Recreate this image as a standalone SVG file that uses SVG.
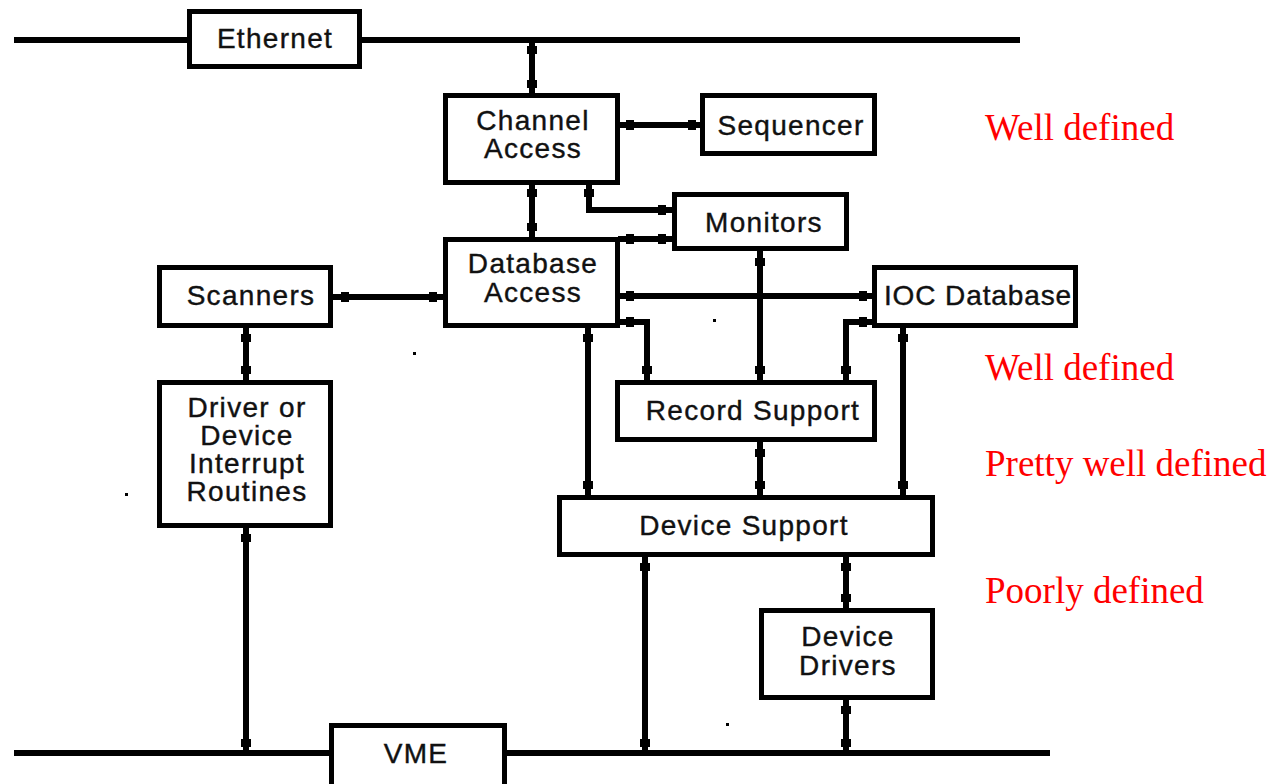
<svg xmlns="http://www.w3.org/2000/svg" width="1286" height="784" viewBox="0 0 1286 784">
<style>
.box{fill:#fff;stroke:#000;stroke-width:5}
.ln{fill:none;stroke:#000;stroke-width:6}
.t{font-family:"Liberation Sans",Arial,sans-serif;font-size:28px;fill:#111;stroke:#111;stroke-width:0.4;letter-spacing:1.3px;text-anchor:middle}
.r{font-family:"Liberation Serif","Times New Roman",serif;font-size:37px;fill:#ff0000}
.tk{fill:#000}
</style>
<defs>
<rect id="tv" x="-5" y="-4" width="10" height="8"/>
<rect id="th" x="-4" y="-5" width="8" height="10"/>
</defs>
<rect width="1286" height="784" fill="#fff"/>
<g id="connectors">
<path class="ln" d="M14 40 H1020"/>
<path class="ln" d="M14 753 H1050"/>
<path class="ln" d="M532 40 V95"/>
<path class="ln" d="M620 125 H700"/>
<path class="ln" d="M532 185 V237"/>
<path class="ln" d="M589 185 V210 H672"/>
<path class="ln" d="M618 239 H672"/>
<path class="ln" d="M333 297 H443"/>
<path class="ln" d="M620 296 H872"/>
<path class="ln" d="M246 328 V380"/>
<path class="ln" d="M246 528 V753"/>
<path class="ln" d="M588 328 V495"/>
<path class="ln" d="M620 322 H647 V380"/>
<path class="ln" d="M760 251 V380"/>
<path class="ln" d="M872 322 H846 V380"/>
<path class="ln" d="M903 328 V495"/>
<path class="ln" d="M760 442 V495"/>
<path class="ln" d="M645 557 V753"/>
<path class="ln" d="M846 557 V608"/>
<path class="ln" d="M846 700 V753"/>
<g class="tk">
<use href="#tv" x="532" y="50"/><use href="#tv" x="532" y="84"/>
<use href="#th" x="630" y="125"/><use href="#th" x="692" y="125"/>
<use href="#tv" x="532" y="193"/><use href="#tv" x="532" y="227"/>
<use href="#tv" x="589" y="193"/><use href="#th" x="662" y="210"/>
<use href="#th" x="630" y="239"/><use href="#th" x="662" y="239"/>
<use href="#th" x="345" y="297"/><use href="#th" x="433" y="297"/>
<use href="#th" x="630" y="296"/><use href="#th" x="863" y="296"/>
<use href="#tv" x="246" y="338"/><use href="#tv" x="246" y="370"/>
<use href="#tv" x="246" y="538"/><use href="#tv" x="246" y="743"/>
<use href="#tv" x="588" y="338"/><use href="#tv" x="588" y="485"/>
<use href="#th" x="630" y="322"/><use href="#tv" x="647" y="370"/>
<use href="#tv" x="760" y="262"/><use href="#tv" x="760" y="370"/>
<use href="#th" x="863" y="322"/><use href="#tv" x="846" y="370"/>
<use href="#tv" x="903" y="338"/><use href="#tv" x="903" y="485"/>
<use href="#tv" x="760" y="453"/><use href="#tv" x="760" y="485"/>
<use href="#tv" x="645" y="567"/><use href="#tv" x="645" y="743"/>
<use href="#tv" x="846" y="567"/><use href="#tv" x="846" y="598"/>
<use href="#tv" x="846" y="710"/><use href="#tv" x="846" y="743"/>
</g>
</g>
<g id="ethernet"><rect class="box" x="189.5" y="11.5" width="170" height="55"/><text class="t" x="275" y="48">Ethernet</text></g>
<g id="channel-access"><rect class="box" x="445.5" y="95.5" width="172" height="87"/><text class="t" x="533" y="130">Channel</text><text class="t" x="533" y="158">Access</text></g>
<g id="sequencer"><rect class="box" x="702.5" y="95.5" width="172" height="58"/><text class="t" x="791" y="135">Sequencer</text></g>
<g id="monitors"><rect class="box" x="674.5" y="194.5" width="172" height="54"/><text class="t" x="764" y="232">Monitors</text></g>
<g id="database-access"><rect class="box" x="445.5" y="239.5" width="172" height="86"/><text class="t" x="533" y="273">Database</text><text class="t" x="533" y="302">Access</text></g>
<g id="scanners"><rect class="box" x="159.5" y="267.5" width="171" height="58"/><text class="t" x="251" y="305">Scanners</text></g>
<g id="ioc-database"><rect class="box" x="874.5" y="267.5" width="201" height="58"/><text class="t" x="978" y="305" style="letter-spacing:0.9px">IOC Database</text></g>
<g id="driver-interrupt"><rect class="box" x="159.5" y="382.5" width="171" height="143"/><text class="t" x="247" y="417">Driver or</text><text class="t" x="247" y="445">Device</text><text class="t" x="247" y="473">Interrupt</text><text class="t" x="247" y="501">Routines</text></g>
<g id="record-support"><rect class="box" x="617.5" y="382.5" width="257" height="57"/><text class="t" x="753" y="420">Record Support</text></g>
<g id="device-support"><rect class="box" x="559.5" y="497.5" width="373" height="57"/><text class="t" x="744" y="535">Device Support</text></g>
<g id="device-drivers"><rect class="box" x="761.5" y="610.5" width="171" height="87"/><text class="t" x="848" y="646">Device</text><text class="t" x="848" y="675">Drivers</text></g>
<g id="vme"><rect class="box" x="331.5" y="725.5" width="173" height="70"/><text class="t" x="416" y="763">VME</text></g>
<g id="dots" fill="#000">
<rect x="413" y="352" width="3" height="3"/><rect x="713" y="319" width="3" height="3"/><rect x="125" y="493" width="3" height="3"/><rect x="726" y="723" width="3" height="3"/>
</g>
<g id="annotations">
<text class="r" x="985" y="140">Well defined</text>
<text class="r" x="985" y="380">Well defined</text>
<text class="r" x="985" y="476">Pretty well defined</text>
<text class="r" x="985" y="603">Poorly defined</text>
</g>
</svg>
